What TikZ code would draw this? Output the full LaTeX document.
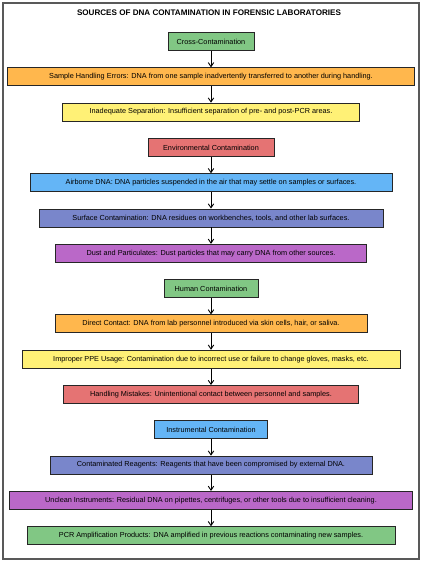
\documentclass[tikz,border=0pt]{standalone}
\usepackage{fontspec}
\setmainfont{Liberation Sans}
\usetikzlibrary{positioning,arrows.meta}

\definecolor{matgreen}{HTML}{81C784}
\definecolor{matorange}{HTML}{FFB74D}
\definecolor{matyellow}{HTML}{FFF176}
\definecolor{matred}{HTML}{E57373}
\definecolor{matblue}{HTML}{64B5F6}
\definecolor{matindigo}{HTML}{7986CB}
\definecolor{matpurple}{HTML}{BA68C8}

\begin{document}
\begin{tikzpicture}[x=1pt,y=1pt,node distance=16.4pt,
			every node/.style={
				draw=black!85,
				line width=0.9pt,
				align=center,
				minimum height=18pt,
				inner xsep=4pt,
				font=\fontsize{7.3}{8.5}\selectfont},
			>={Straight Barb[length=4pt,width=5.5pt]}]
			
			\useasboundingbox (0,0) rectangle (427,-564);
			\draw[black!65,line width=1.1pt] (3,-3) rectangle (419,-559);
			
			\node[draw=none,font=\bfseries\fontsize{8.1}{9.5}\selectfont] (title) at (209,-13) {SOURCES OF DNA CONTAMINATION IN FORENSIC LABORATORIES};
			
			% cross-contamination
			\node[fill=matgreen,minimum width=86pt] (cross) at (211,-41.5) {Cross-Contamination};
			
			\node[fill=matorange,minimum width=407pt] (sample) [below=of cross] {Sample Handling Errors: DNA from one sample inadvertently transferred to another during handling.};
			
			\node[fill=matyellow,minimum width=297pt] (separation) [below=of sample] {Inadequate Separation: Insufficient separation of pre- and post-PCR areas.};
			
			% environmental
			\node[fill=matred,minimum width=126pt] (environ) [below=of separation] {Environmental Contamination};
			
			\node[fill=matblue,minimum width=362pt] (airborne) [below=of environ] {Airborne DNA: DNA particles suspended in the air that may settle on samples or surfaces.};
			
			\node[fill=matindigo,minimum width=344pt] (surface) [below=of airborne] {Surface Contamination: DNA residues on workbenches, tools, and other lab surfaces.};
			
			\node[fill=matpurple,minimum width=311pt] (dust) [below=of surface] {Dust and Particulates: Dust particles that may carry DNA from other sources.};
			
			% human
			\node[fill=matgreen,minimum width=94pt] (human) [below=of dust] {Human Contamination};
			
			\node[fill=matorange,minimum width=312pt] (direct) [below=of human] {Direct Contact: DNA from lab personnel introduced via skin cells, hair, or saliva.};
			
			\node[fill=matyellow,minimum width=378pt] (ppe) [below=of direct] {Improper PPE Usage: Contamination due to incorrect use or failure to change gloves, masks, etc.};
			
			\node[fill=matred,minimum width=295pt] (mistakes) [below=of ppe] {Handling Mistakes: Unintentional contact between personnel and samples.};
			
			% instrumental
			\node[fill=matblue,minimum width=113pt] (instrument) [below=of mistakes] {Instrumental Contamination};
			
			\node[fill=matindigo,minimum width=322pt] (reagents) [below=of instrument] {Contaminated Reagents: Reagents that have been compromised by external DNA.};
			
			\node[fill=matpurple,minimum width=403pt] (unclean) [below=of reagents] {Unclean Instruments: Residual DNA on pipettes, centrifuges, or other tools due to insufficient cleaning.};
			
			\node[fill=matgreen,minimum width=368pt] (pcr) [below=of unclean] {PCR Amplification Products: DNA amplified in previous reactions contaminating new samples.};
			
			\draw[->,line width=0.9pt] (cross)--(sample);
			\draw[->,line width=0.9pt] (sample)--(separation);
			
			\draw[->,line width=0.9pt] (environ)--(airborne);
			\draw[->,line width=0.9pt] (airborne)--(surface);
			\draw[->,line width=0.9pt] (surface)--(dust);
			
			\draw[->,line width=0.9pt] (human)--(direct);
			\draw[->,line width=0.9pt] (direct)--(ppe);
			\draw[->,line width=0.9pt] (ppe)--(mistakes);
			
			\draw[->,line width=0.9pt] (instrument)--(reagents);
			\draw[->,line width=0.9pt] (reagents)--(unclean);
			\draw[->,line width=0.9pt] (unclean)--(pcr);
			
		\end{tikzpicture}
\end{document}
